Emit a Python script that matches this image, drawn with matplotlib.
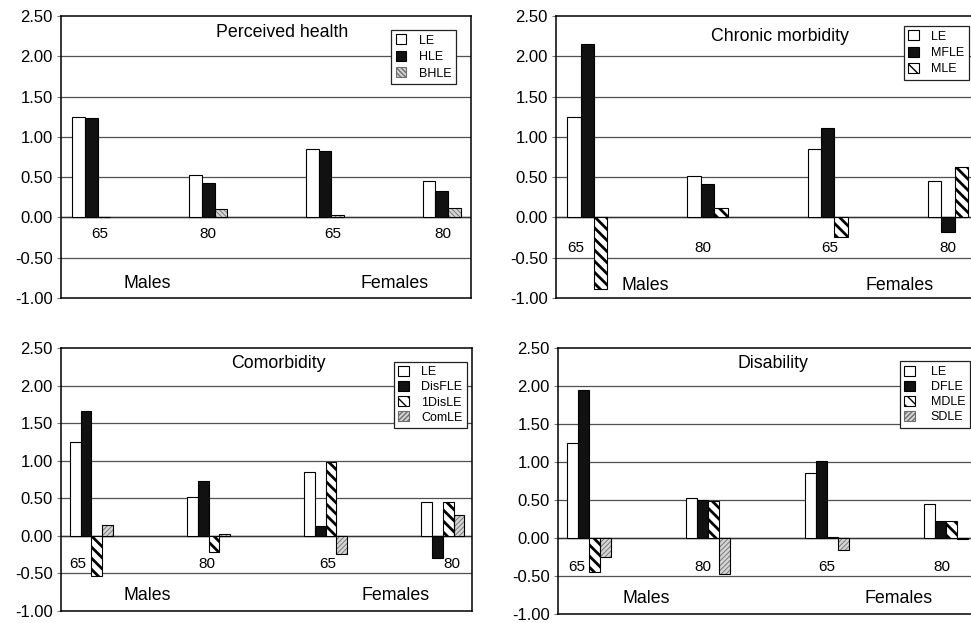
import matplotlib
matplotlib.use("Agg")
import matplotlib.pyplot as plt
from matplotlib.patches import Patch
import numpy as np

plt.rcParams['font.family'] = ['Liberation Sans', 'DejaVu Sans']

# ---------------- data ----------------
groups = ["65", "80", "65", "80"]
sex_labels = ["Males", "Females"]
yticks = [-1.0, -0.5, 0.0, 0.5, 1.0, 1.5, 2.0, 2.5]

p1_title = "Perceived health"
p1_series = ["LE", "HLE", "BHLE"]
p1_LE = [1.25, 0.53, 0.85, 0.45]
p1_HLE = [1.24, 0.43, 0.83, 0.33]
p1_BHLE = [0.01, 0.10, 0.03, 0.12]

p2_title = "Chronic morbidity"
p2_series = ["LE", "MFLE", "MLE"]
p2_LE = [1.25, 0.52, 0.85, 0.45]
p2_MFLE = [2.15, 0.42, 1.11, -0.18]
p2_MLE = [-0.89, 0.12, -0.24, 0.62]

p3_title = "Comorbidity"
p3_series = ["LE", "DisFLE", "1DisLE", "ComLE"]
p3_LE = [1.25, 0.52, 0.85, 0.45]
p3_DisFLE = [1.66, 0.73, 0.13, -0.29]
p3_1DisLE = [-0.54, -0.22, 0.98, 0.45]
p3_ComLE = [0.15, 0.02, -0.24, 0.28]

p4_title = "Disability"
p4_series = ["LE", "DFLE", "MDLE", "SDLE"]
p4_LE = [1.25, 0.52, 0.85, 0.45]
p4_DFLE = [1.95, 0.50, 1.01, 0.22]
p4_MDLE = [-0.45, 0.49, 0.01, 0.23]
p4_SDLE = [-0.25, -0.47, -0.16, -0.01]

# ---------------- styles ----------------
STY = {
    'white': dict(fc='white', hc=None, hatch=None, hlw=None),
    'black': dict(fc='#111111', hc=None, hatch=None, hlw=None),
    'thick': dict(fc='white', hc='black', hatch='\\\\\\', hlw=2.0),
    'fine_b': dict(fc='#d4d4d4', hc='#6e6e6e', hatch='\\\\\\\\\\\\\\', hlw=0.6),
    'fine_f': dict(fc='#d4d4d4', hc='#6e6e6e', hatch='///////', hlw=0.6),
}


def draw_bars(ax, x, vals, width, st):
    s = STY[st]
    if s['hatch']:
        bars = ax.bar(x, vals, width, color=s['fc'], edgecolor=s['hc'],
                      linewidth=0, hatch=s['hatch'], zorder=2)
        for b in bars:
            if hasattr(b, 'set_hatch_linewidth'):
                b.set_hatch_linewidth(s['hlw'])
        ax.bar(x, vals, width, fill=False, edgecolor='black', linewidth=0.8, zorder=3)
    else:
        ax.bar(x, vals, width, color=s['fc'], edgecolor='black', linewidth=0.8, zorder=2)


def legend_handle(st, label):
    s = STY[st]
    if s['hatch']:
        h = Patch(facecolor=s['fc'], edgecolor=s['hc'] if st != 'thick' else 'black',
                  hatch=s['hatch'], linewidth=0.8, label=label)
        if hasattr(h, 'set_hatch_linewidth'):
            h.set_hatch_linewidth(s['hlw'])
    else:
        h = Patch(facecolor=s['fc'], edgecolor='black', linewidth=0.8, label=label)
    return h


if not hasattr(Patch(), 'set_hatch_linewidth'):
    plt.rcParams['hatch.linewidth'] = 1.4

fig = plt.figure(figsize=(9.71, 6.23), dpi=100)

panels = [
    dict(rect=[0.0628, 0.5217, 0.4222, 0.4526], title=p1_title, series=p1_series,
         data=[p1_LE, p1_HLE, p1_BHLE], styles=['white', 'black', 'fine_b'], width=0.109,
         tpos=(0.54, 0.943), lab_x=[0.07, 1.0, 2.07, 3.01], lab_y=-0.21,
         leg=(0.963, 0.950), legfs=9, legsp=0.33, htp=1.0, sex_y=-0.82),
    dict(rect=[0.5726, 0.5217, 0.4346, 0.4526], title=p2_title, series=p2_series,
         data=[p2_LE, p2_MFLE, p2_MLE], styles=['white', 'black', 'thick'], width=0.112,
         tpos=(0.53, 0.926), lab_x=[-0.094, 0.963, 2.02, 3.0], lab_y=-0.38,
         leg=(0.978, 0.965), legfs=9, legsp=0.33, htp=1.0, sex_y=-0.84),
    dict(rect=[0.0628, 0.01926, 0.4233, 0.4221], title=p3_title, series=p3_series,
         data=[p3_LE, p3_DisFLE, p3_1DisLE, p3_ComLE],
         styles=['white', 'black', 'thick', 'fine_f'], width=0.0925,
         tpos=(0.528, 0.943), lab_x=[-0.113, 0.986, 2.02, 3.075], lab_y=-0.38,
         leg=(0.987, 0.948), legfs=9, legsp=0.22, htp=1.0, sex_y=-0.80),
    dict(rect=[0.5747, 0.01445, 0.4305, 0.4270], title=p4_title, series=p4_series,
         data=[p4_LE, p4_DFLE, p4_MDLE, p4_SDLE],
         styles=['white', 'black', 'thick', 'fine_f'], width=0.0925,
         tpos=(0.514, 0.941), lab_x=[-0.106, 0.955, 1.993, 2.96], lab_y=-0.376,
         leg=(0.985, 0.95), legfs=9, legsp=0.22, htp=1.3, sex_y=-0.80),
]

x = np.arange(len(groups))
for P in panels:
    ax = fig.add_axes(P['rect'])
    n = len(P['series'])
    w = P['width']
    for i, (vals, st) in enumerate(zip(P['data'], P['styles'])):
        draw_bars(ax, x + (i - (n - 1) / 2) * w, vals, w, st)
    ax.set_xlim(-0.26, 3.25)
    ax.set_ylim(-1.0, 2.5)
    ax.set_yticks(yticks)
    ax.set_yticklabels([f"{t:.2f}" for t in yticks], fontsize=12)
    ax.set_xticks([])
    ax.tick_params(axis='y', length=3, width=0.8, color='#777777', pad=3)
    for t in yticks[1:-1]:
        ax.axhline(t, color='#505050', linewidth=0.9, zorder=1)
    ax.axhline(0, color='#333333', linewidth=1.0, zorder=1.5)
    for sp in ax.spines.values():
        sp.set_linewidth(1.1)
        sp.set_color('black')
    ax.text(P['tpos'][0], P['tpos'][1], P['title'], transform=ax.transAxes,
            ha='center', va='center', fontsize=12.8)
    for lx, g in zip(P['lab_x'], groups):
        ax.text(lx, P['lab_y'], g, ha='center', va='center', fontsize=11)
    ax.text(0.48, P['sex_y'], sex_labels[0], ha='center', va='center', fontsize=12.8)
    ax.text(2.6, P['sex_y'], sex_labels[1], ha='center', va='center', fontsize=12.8)
    handles = [legend_handle(st, lab) for st, lab in zip(P['styles'], P['series'])]
    leg = ax.legend(handles=handles, loc='upper right', bbox_to_anchor=P['leg'],
                    fontsize=P['legfs'], frameon=True, fancybox=False, framealpha=1,
                    edgecolor='#222222', handlelength=0.85, handleheight=0.85,
                    handletextpad=P['htp'], labelspacing=P['legsp'], borderpad=0.35,
                    borderaxespad=0)
    leg.get_frame().set_linewidth(0.9)
    leg.set_zorder(5)

fig.savefig("out.png", dpi=100)
